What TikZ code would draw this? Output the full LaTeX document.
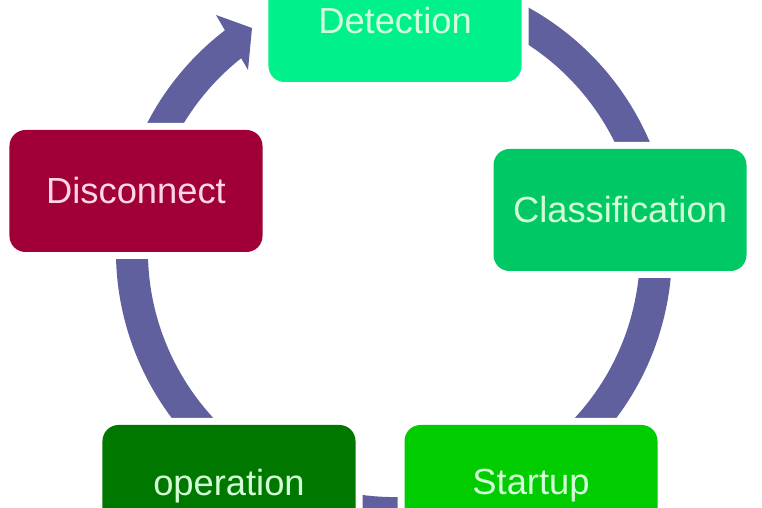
\documentclass[tikz,border=0pt]{standalone}
\usepackage{fontspec}
\setmainfont{Liberation Sans}
\usetikzlibrary{calc}
\definecolor{detc}{RGB}{0,240,140}
\definecolor{clsc}{RGB}{0,200,100}
\definecolor{stc}{RGB}{0,204,0}
\definecolor{opc}{RGB}{0,120,0}
\definecolor{disc}{RGB}{160,0,55}
\definecolor{cyc}{RGB}{96,96,158}
\definecolor{txtg}{RGB}{210,255,215}
\definecolor{txtp}{RGB}{255,215,228}
\begin{document}
\begin{tikzpicture}[x=0.03cm,y=0.03cm,
  box/.style={rounded corners=0.48cm, minimum width=7.59cm, minimum height=3.66cm,
    inner sep=0pt, font=\fontsize{31}{36}\selectfont,
    preaction={draw=white,line width=0.42cm}},
  cycband/.style={draw=cyc, line width=0.96cm}]
\useasboundingbox (0,0) rectangle (762,508);
\clip (0,0) rectangle (762,508);
\coordinate (c) at (394,257);
\coordinate (a0) at ($(c)+(80:7.86cm)$);
\draw[cycband] (a0) arc[start angle=80, end angle=-234, radius=7.86cm];
\coordinate (b1) at (216,493);
\coordinate (tip) at (252,480);
\coordinate (b2) at (248,438);
\fill[cyc] (b1) -- (tip) -- (b2) -- cycle;
\node[box, fill=detc, text=txtg] (det) at (395,487) {Detection};
\node[box, fill=clsc, text=txtg] (cls) at (620,298) {Classification};
\node[box, fill=stc, text=txtg] (st) at (531,22) {Startup};
\node[box, fill=opc, text=txtg] (op) at (229,22) {operation};
\node[box, fill=disc, text=txtp] (dis) at (136,317) {Disconnect};
\end{tikzpicture}
\end{document}
